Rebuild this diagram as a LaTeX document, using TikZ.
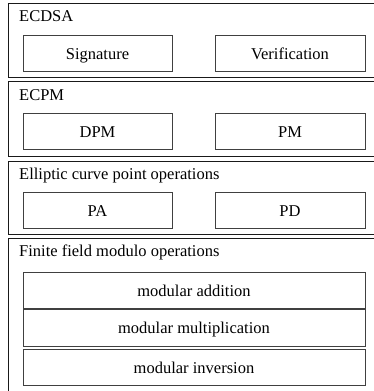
\documentclass[tikz,border=0pt]{standalone}
\usepackage{fontspec}
\setmainfont{Liberation Serif}
\begin{document}
\begin{tikzpicture}[x=1pt,y=-1pt,
  layer/.style={draw=black!90, line width=0.9pt},
  unit/.style={draw=black!75, line width=0.9pt, inner sep=0pt,
    text height=13.5pt, text depth=1.5pt, font=\fontsize{16.5}{19}\selectfont},
  title/.style={anchor=base west, inner sep=0pt, font=\fontsize{16.5}{19}\selectfont}]
\useasboundingbox (0,0) rectangle (373,391);
% layers (open to the right and at the bottom)
\draw[layer] (380,3) -- (8,3) -- (8,77) -- (380,77);
\draw[layer] (380,81) -- (8,81) -- (8,156) -- (380,156);
\draw[layer] (380,161) -- (8,161) -- (8,234) -- (380,234);
\draw[layer] (380,238) -- (8,238) -- (8,400);
% layer titles
\node[title] (t1) at (19,21) {ECDSA};
\node[title] (t2) at (19,100) {ECPM};
\node[title] (t3) at (19,179) {Elliptic curve point operations};
\node[title] (t4) at (19,256) {Finite field modulo operations};
% units
\node[unit, minimum width=149pt, minimum height=36pt] (sig) at (97.5,53) {Signature};
\node[unit, minimum width=150pt, minimum height=36pt] (ver) at (290,53) {Verification};
\node[unit, minimum width=149pt, minimum height=36pt] (dpm) at (97.5,131) {DPM};
\node[unit, minimum width=150pt, minimum height=36pt] (pm) at (290,131) {PM};
\node[unit, minimum width=149pt, minimum height=36pt] (pa) at (97.5,210) {PA};
\node[unit, minimum width=150pt, minimum height=36pt] (pd) at (290,210) {PD};
\node[unit, minimum width=342pt, minimum height=36pt] (madd) at (194,290) {modular addition};
\node[unit, minimum width=342pt, minimum height=37pt] (mmul) at (194,327.5) {modular multiplication};
\node[unit, minimum width=342pt, minimum height=36pt] (minv) at (194,367) {modular inversion};
\end{tikzpicture}
\end{document}
